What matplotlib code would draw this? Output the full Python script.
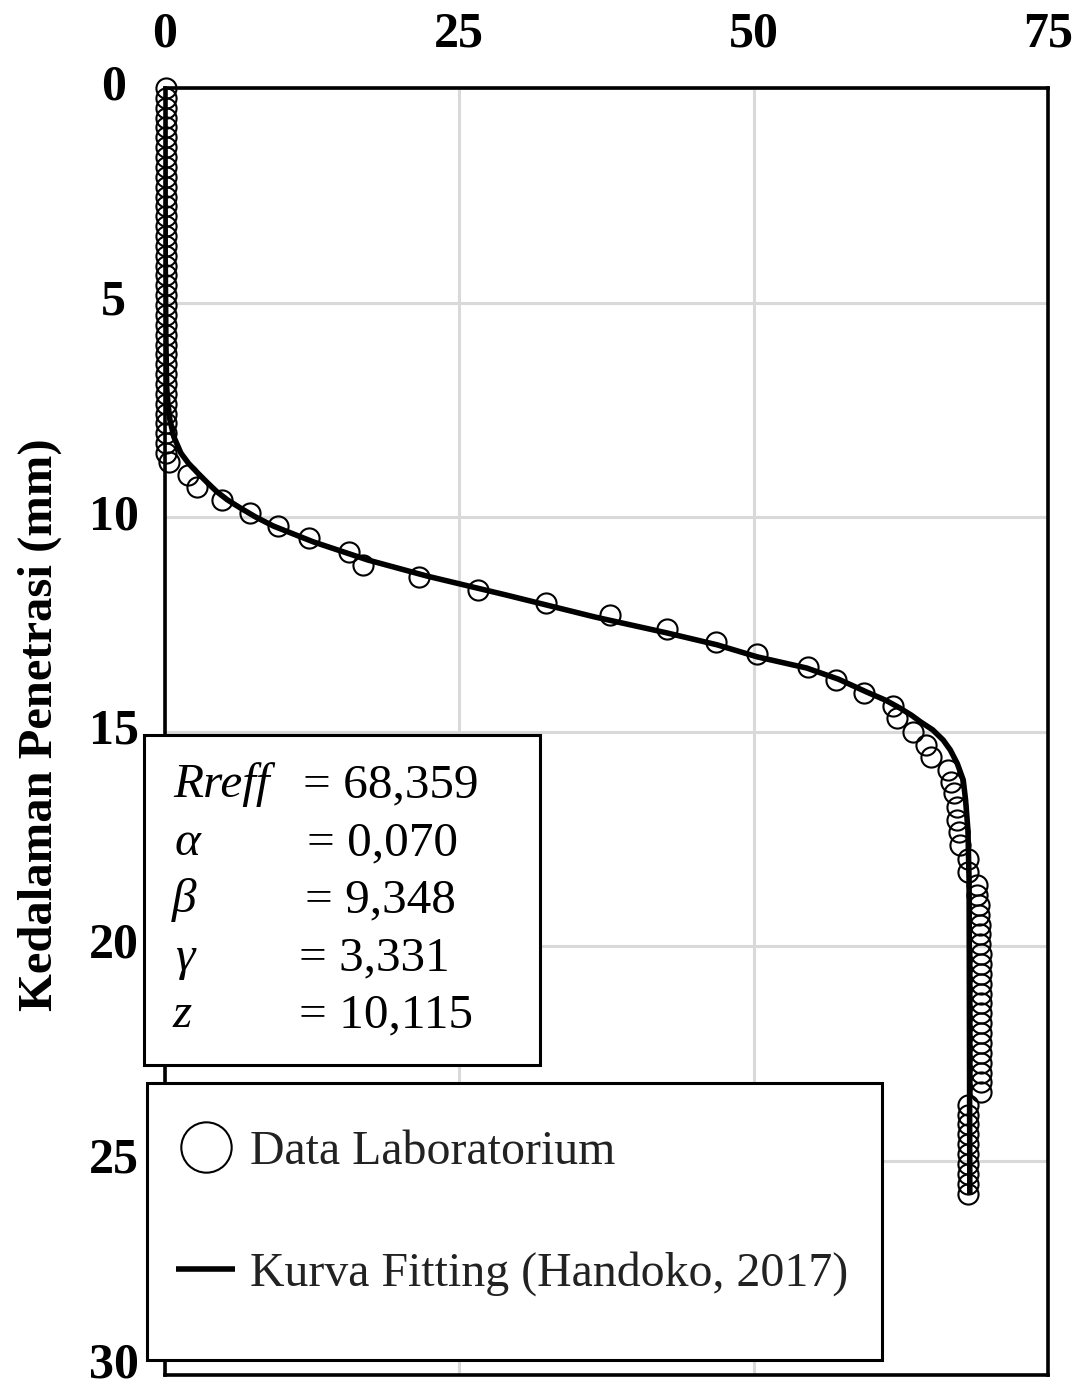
import matplotlib
matplotlib.use("Agg")
import matplotlib.pyplot as plt
from matplotlib.patches import Rectangle
from matplotlib.transforms import ScaledTranslation

# ---------------- data ----------------
lab_x = [0.1] * 38 + [0.3,
         1.95, 2.72, 4.84, 7.22, 9.60, 12.23, 15.63, 16.82, 21.57, 26.59, 32.36,
         37.8, 42.6, 46.8, 50.3, 54.6, 57.0, 59.4, 61.8, 62.2, 63.5, 64.6, 65.1,
         66.5, 66.8, 67.0, 67.3, 67.3, 67.4, 67.5, 68.2, 68.2,
         69.0, 69.0, 69.1, 69.1, 69.2, 69.2, 69.2, 69.3, 69.3, 69.3, 69.3, 69.3,
         69.3, 69.3, 69.3, 69.3, 69.3, 69.3, 69.3, 69.3, 69.3, 69.3,
         68.2, 68.2, 68.2, 68.2, 68.2, 68.2, 68.2, 68.2, 68.2, 68.2]
lab_y = [0.00, 0.23, 0.46, 0.69, 0.92, 1.15, 1.38, 1.61, 1.84, 2.07, 2.30, 2.53,
         2.76, 2.99, 3.22, 3.45, 3.68, 3.91, 4.14, 4.37, 4.60, 4.83, 5.06, 5.29,
         5.52, 5.75, 5.98, 6.21, 6.44, 6.67, 6.90, 7.13, 7.36, 7.59, 7.82, 8.05,
         8.28, 8.51, 8.72,
         9.02, 9.30, 9.60, 9.91, 10.21, 10.49, 10.82, 11.12, 11.40, 11.70, 12.00,
         12.28, 12.61, 12.91, 13.19, 13.50, 13.80, 14.10, 14.41, 14.69, 15.01, 15.31, 15.59,
         15.90, 16.18, 16.43, 16.76, 17.06, 17.35, 17.65, 17.98, 18.28,
         18.58, 18.81, 19.04, 19.27, 19.50, 19.73, 19.96, 20.19, 20.42, 20.65, 20.88, 21.11,
         21.34, 21.57, 21.80, 22.03, 22.26, 22.49, 22.72, 22.95, 23.18, 23.40,
         23.70, 23.93, 24.16, 24.39, 24.62, 24.85, 25.08, 25.31, 25.54, 25.77]

fit_x = [0.0, 0.02, 0.08, 0.15, 0.25, 0.42, 0.75, 1.35, 2.0, 2.8, 3.6, 4.4, 5.3,
         6.4, 7.7, 9.2, 12.6, 17.2, 22.3, 29.0, 36.5, 42.6, 46.9, 50.3, 54.5,
         57.2, 59.6, 61.2, 62.4, 63.4, 64.2, 65.2, 66.1, 66.7, 67.3, 67.8, 68.0,
         68.2, 68.3, 68.36]
fit_y = [0.0, 4.0, 6.0, 7.0, 7.35, 7.74, 8.13, 8.51, 8.75, 8.98, 9.2, 9.41, 9.6,
         9.79, 10.0, 10.21, 10.58, 11.0, 11.38, 11.82, 12.33, 12.70, 12.98, 13.26, 13.52,
         13.78, 14.08, 14.27, 14.45, 14.62, 14.78, 14.96, 15.2, 15.43, 15.75, 16.13, 16.6,
         17.3, 18.5, 25.8]

x_ticks = [0, 25, 50, 75]
y_ticks = [0, 5, 10, 15, 20, 25, 30]
y_label = "Kedalaman Penetrasi (mm)"
series_names = ["Data Laboratorium", "Kurva Fitting (Handoko, 2017)"]
param_names = ["Rreff", "α", "β", "γ", "z"]
param_values = ["68,359", "0,070", "9,348", "3,331", "10,115"]

# ---------------- figure ----------------
W, H = 1086, 1395
fig = plt.figure(figsize=(W / 100, H / 100), dpi=100)
SERIF = ["Liberation Serif", "DejaVu Serif"]

ax = fig.add_axes([165 / W, 20 / H, 883 / W, 1287 / H])
ax.set_xlim(0, 75)
ax.set_ylim(30, 0)
ax.set_xticks(x_ticks)
ax.set_yticks(y_ticks)
ax.xaxis.tick_top()
ax.grid(True, color="#d9d9d9", linewidth=2.2)
ax.set_axisbelow(True)
for s in ax.spines.values():
    s.set_linewidth(2.6)
    s.set_color("black")
ax.tick_params(axis="x", length=0, pad=22)
ax.tick_params(axis="y", length=0, pad=37)
for lab in ax.get_xticklabels():
    lab.set_fontfamily(SERIF)
    lab.set_fontweight("bold")
    lab.set_fontsize(36)
for lab in ax.get_yticklabels():
    lab.set_fontfamily(SERIF)
    lab.set_fontweight("bold")
    lab.set_fontsize(36)
    lab.set_horizontalalignment("center")
    lab.set_verticalalignment("center")
# keep the bottom "30" label fully inside the canvas
last = ax.yaxis.get_major_ticks()[-1].label1
last.set_transform(last.get_transform() +
                   ScaledTranslation(0, 7 / 72, fig.dpi_scale_trans))

ax.set_ylabel(y_label, fontfamily=SERIF, fontweight="bold", fontsize=35)
ax.yaxis.set_label_coords(-0.117, 0.505)

pts, = ax.plot(lab_x, lab_y, linestyle="none", marker="o", markersize=14.5,
               markerfacecolor="none", markeredgecolor="black",
               markeredgewidth=1.5, clip_on=False, zorder=3)
crv, = ax.plot(fit_x, fit_y, color="black", linewidth=4.0,
               solid_capstyle="butt", solid_joinstyle="round", zorder=4)

# ---------------- parameter box ----------------
fig.patches.append(Rectangle((144 / W, 1 - 1065 / H), 396 / W, 330 / H,
                             transform=fig.transFigure, facecolor="white",
                             edgecolor="black", linewidth=2.2, zorder=5))
name_x = [173, 175, 172, 175, 173]
eq_x = [303, 307, 305, 299, 299]
base_y = [797, 855, 912, 970, 1027]
for nm, val, nx, ex, by in zip(param_names, param_values, name_x, eq_x, base_y):
    fig.text(nx / W, 1 - by / H, nm, fontfamily=SERIF, fontstyle="italic",
             fontsize=35.5, va="baseline", ha="left", zorder=6)
    fig.text(ex / W, 1 - by / H, "= " + val, fontfamily=SERIF,
             fontsize=35.5, va="baseline", ha="left", zorder=6)

# ---------------- legend ----------------
fig.patches.append(Rectangle((147 / W, 1 - 1360 / H), 735 / W, 277 / H,
                             transform=fig.transFigure, facecolor="white",
                             edgecolor="black", linewidth=2.2, zorder=5))
leg = fig.legend([pts, crv], series_names, loc="center left",
                 bbox_to_anchor=(176 / W, 1 - 1213 / H),
                 bbox_transform=fig.transFigure, frameon=False,
                 prop={"family": SERIF, "size": 34.5}, borderpad=0,
                 borderaxespad=0, handlelength=1.24, handletextpad=0.3,
                 labelspacing=1.6, markerscale=2.5)
leg.set_zorder(7)
for t in leg.get_texts():
    t.set_color("#222222")

fig.savefig("out.png", dpi=100)
